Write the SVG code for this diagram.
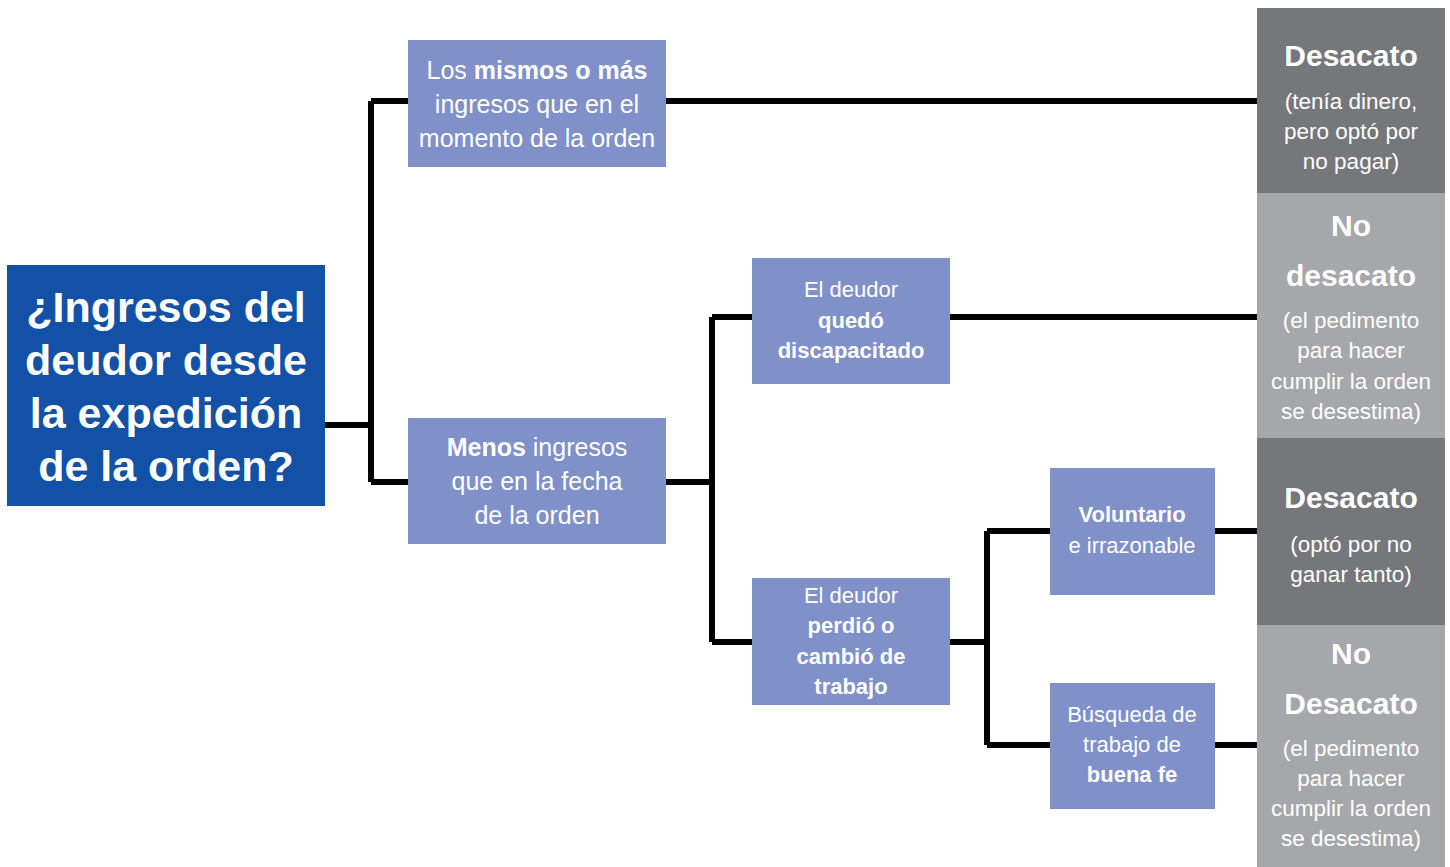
<svg xmlns="http://www.w3.org/2000/svg" width="1450" height="867" viewBox="0 0 1450 867">
<style>
text{font-family:"Liberation Sans","DejaVu Sans",sans-serif;fill:#ffffff;text-anchor:middle}
.b{font-weight:bold}
.main{font-size:43px;font-weight:bold}
.m{font-size:25px}
.s{font-size:22px}
.h{font-size:30px;font-weight:bold}
.r{font-size:22.5px}
.node{fill:#8090c9}
.dark{fill:#76777b}
.light{fill:#a6a7aa}
.conn{stroke:#000;stroke-width:6;fill:none}
</style>
<rect width="1450" height="867" fill="#fff"/>
<g id="connectors">
<path class="conn" d="M325 425H371M371 101V482M371 101H408M371 482H408"/>
<path class="conn" d="M666 101H1257"/>
<path class="conn" d="M666 482H712M712 317V642M712 317H752M712 642H752"/>
<path class="conn" d="M950 317H1257"/>
<path class="conn" d="M950 642H987M987 531V745M987 531H1050M987 745H1050"/>
<path class="conn" d="M1215 531H1257M1215 745H1257"/>
</g>
<g id="root">
<rect x="7" y="265" width="318" height="241" fill="#1351a6"/>
<text class="main" x="166" y="322">¿Ingresos del</text>
<text class="main" x="166" y="375">deudor desde</text>
<text class="main" x="166" y="428">la expedición</text>
<text class="main" x="166" y="481">de la orden?</text>
</g>
<g id="same">
<rect class="node" x="408" y="40" width="258" height="127"/>
<text class="m" x="537" y="79">Los <tspan class="b">mismos o más</tspan></text>
<text class="m" x="537" y="113">ingresos que en el</text>
<text class="m" x="537" y="147">momento de la orden</text>
</g>
<g id="less">
<rect class="node" x="408" y="418" width="258" height="126"/>
<text class="m" x="537" y="456"><tspan class="b">Menos</tspan> ingresos</text>
<text class="m" x="537" y="490">que en la fecha</text>
<text class="m" x="537" y="524">de la orden</text>
</g>
<g id="disabled">
<rect class="node" x="752" y="258" width="198" height="126"/>
<text class="s" x="851" y="297">El deudor</text>
<text class="s b" x="851" y="328">quedó</text>
<text class="s b" x="851" y="358">discapacitado</text>
</g>
<g id="lostjob">
<rect class="node" x="752" y="578" width="198" height="127"/>
<text class="s" x="851" y="603">El deudor</text>
<text class="s b" x="851" y="633">perdió o</text>
<text class="s b" x="851" y="664">cambió de</text>
<text class="s b" x="851" y="694">trabajo</text>
</g>
<g id="voluntary">
<rect class="node" x="1050" y="468" width="165" height="127"/>
<text class="s b" x="1132" y="522">Voluntario</text>
<text class="s" x="1132" y="553">e irrazonable</text>
</g>
<g id="goodfaith">
<rect class="node" x="1050" y="683" width="165" height="126"/>
<text class="s" x="1132" y="722">Búsqueda de</text>
<text class="s" x="1132" y="752">trabajo de</text>
<text class="s b" x="1132" y="782">buena fe</text>
</g>
<g id="result1">
<rect class="dark" x="1257" y="8" width="188" height="185"/>
<text class="h" x="1351" y="66">Desacato</text>
<text class="r" x="1351" y="109">(tenía dinero,</text>
<text class="r" x="1351" y="139">pero optó por</text>
<text class="r" x="1351" y="169">no pagar)</text>
</g>
<g id="result2">
<rect class="light" x="1257" y="193" width="188" height="245"/>
<text class="h" x="1351" y="236">No</text>
<text class="h" x="1351" y="286">desacato</text>
<text class="r" x="1351" y="328">(el pedimento</text>
<text class="r" x="1351" y="358">para hacer</text>
<text class="r" x="1351" y="389">cumplir la orden</text>
<text class="r" x="1351" y="419">se desestima)</text>
</g>
<g id="result3">
<rect class="dark" x="1257" y="438" width="188" height="187"/>
<text class="h" x="1351" y="508">Desacato</text>
<text class="r" x="1351" y="552">(optó por no</text>
<text class="r" x="1351" y="582">ganar tanto)</text>
</g>
<g id="result4">
<rect class="light" x="1257" y="625" width="188" height="242"/>
<text class="h" x="1351" y="664">No</text>
<text class="h" x="1351" y="714">Desacato</text>
<text class="r" x="1351" y="756">(el pedimento</text>
<text class="r" x="1351" y="786">para hacer</text>
<text class="r" x="1351" y="816">cumplir la orden</text>
<text class="r" x="1351" y="846">se desestima)</text>
</g>
</svg>
